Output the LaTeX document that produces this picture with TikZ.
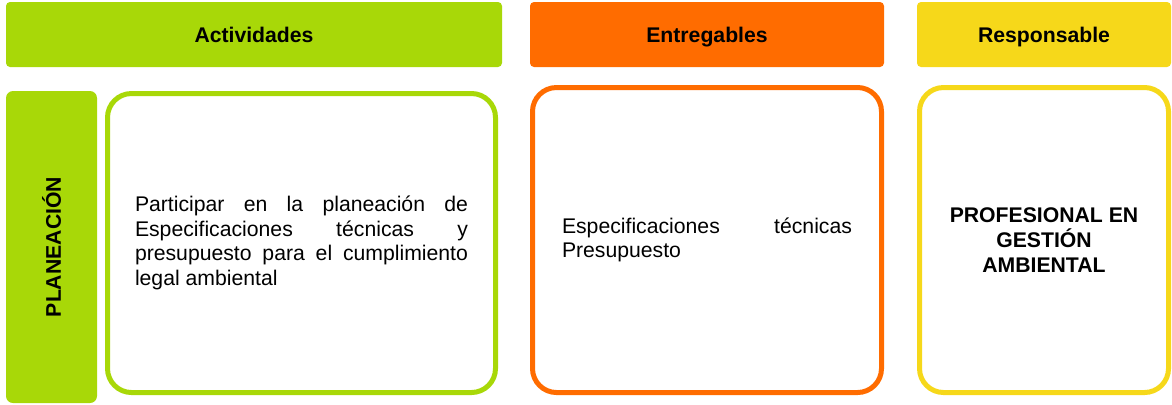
\documentclass[tikz,border=0pt]{standalone}
\usepackage{fontspec}
\setmainfont{Liberation Sans}
\usetikzlibrary{positioning}
\definecolor{verde}{HTML}{A8D808}
\definecolor{naranja}{HTML}{FF6C00}
\definecolor{amarillo}{HTML}{F6D81A}

\begin{document}
\begin{tikzpicture}[x=0.5pt, y=-0.5pt,
    every node/.style={inner sep=0pt, anchor=center,
      font=\fontsize{10.6}{12.3}\selectfont},
    % Header bars on top of each column
    hdr/.style={fill=#1, rounded corners=2pt, minimum height=32.5pt,
      text height=7.7pt, text depth=0pt,
      font=\fontsize{10.6}{12.3}\selectfont\bfseries},
    % Outlined boxes with the content
    cell/.style={draw=#1, line width=2.5pt, rounded corners=12pt, fill=white},
    txt/.style={text width=#1, align=justify}
  ]
\useasboundingbox (0,0) rectangle (1172,404);

% headers
\node[hdr=verde, minimum width=248pt]    (actividades) at (254,34.5)  {Actividades};
\node[hdr=naranja, minimum width=177pt]  (entregables) at (707,34.5)  {Entregables};
\node[hdr=amarillo, minimum width=127pt] (responsable) at (1044,34.5) {Responsable};

% phase tab
\node[fill=verde, rounded corners=3.5pt, rotate=90,
      minimum width=156pt, minimum height=45.5pt,
      font=\fontsize{10.6}{12.3}\selectfont\bfseries] (planeacion) at (51.5,247) {PLANEACIÓN};

% content boxes
\node[cell=verde, minimum width=194pt, minimum height=149.5pt] (act) at (301.5,243) {};
\node[cell=naranja, minimum width=174.5pt, minimum height=152.5pt] (ent) at (707,240) {};
\node[cell=amarillo, minimum width=124.5pt, minimum height=152.5pt] (resp) at (1044,240) {};

% texts
\node[txt=166.5pt] (acttxt) at (act.center)
  {Participar en la planeación de\linebreak Especificaciones técnicas y\linebreak presupuesto para el cumplimiento legal ambiental};
\node[txt=145pt] (enttxt) at (ent.center)
  {Especificaciones técnicas\linebreak Presupuesto};
\node[align=center, font=\fontsize{10.6}{12.3}\selectfont\bfseries] (resptxt) at (resp.center)
  {PROFESIONAL EN\\GESTIÓN\\AMBIENTAL};
\end{tikzpicture}
\end{document}
